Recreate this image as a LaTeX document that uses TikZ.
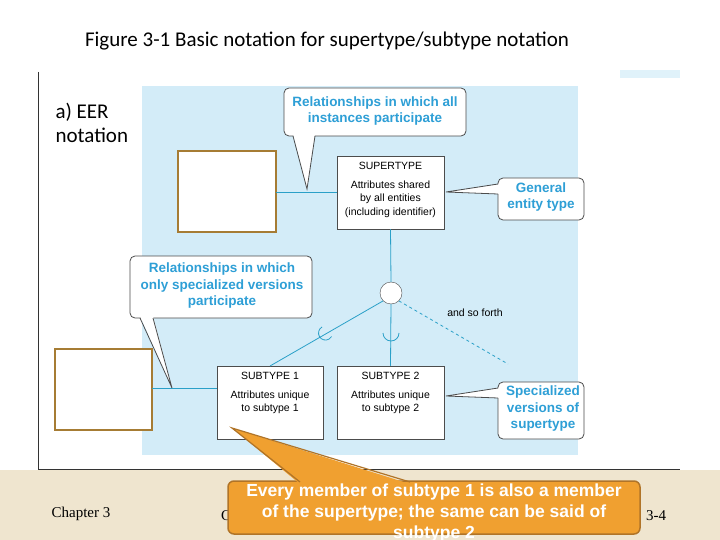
\documentclass[tikz,border=0pt]{standalone}
\usepackage{fontspec}
\setmainfont{Liberation Sans}
\newfontfamily\carlitofont{Carlito}
\newfontfamily\tmsfont{Liberation Serif}
\usetikzlibrary{calc}
\definecolor{panel}{HTML}{D3ECF8}
\definecolor{cy}{HTML}{2AA0C8}
\definecolor{ctext}{HTML}{2E9FD6}
\definecolor{brn}{HTML}{A67C34}
\definecolor{org}{HTML}{F0A030}
\definecolor{orgd}{HTML}{B07428}
\definecolor{tan}{HTML}{EFE5CF}
\tikzset{
 ent/.style={draw=black!70,fill=white,line width=0.5pt,inner sep=0pt},
 rel/.style={draw=brn,line width=2.5pt,fill=white},
 conn/.style={draw=cy,line width=0.8pt},
 call/.style={draw=black!70,fill=white,line width=0.8pt,rounded corners=5pt},
 calltxt/.style={text=ctext,font=\bfseries\fontsize{13.5}{16.5}\selectfont,align=center},
 enttxt/.style={font=\fontsize{10.5}{13.5}\selectfont,align=center}
}
\begin{document}
\begin{tikzpicture}[x=1pt,y=-1pt]
\useasboundingbox (0,0) rectangle (720,540);
\fill[white] (0,0) rectangle (720,540);
\fill[tan] (0,470) rectangle (720,540);
\node[font=\carlitofont\fontsize{21}{24}\selectfont] (title) at (327,41) {Figure 3-1 Basic notation for supertype/subtype notation};
\fill[white] (38,72) rectangle (680,469);
\draw[black!80,line width=1pt] (38,72) -- (38,469) -- (680,469);
\fill[panel!70] (620,70) rectangle (680,78);
\fill[panel] (142,86) rectangle (578,455);
\node[font=\carlitofont\fontsize{21}{24}\selectfont,align=left,anchor=north west] (lab) at (52,100) {a) EER\\notation};
% relationship boxes
\draw[rel] (178,151) rectangle (276,232);
\coordinate (r1) at (276,192);
\draw[rel] (55,349) rectangle (152,430);
\coordinate (r2) at (152,388);
% entities
\node[ent,minimum width=107pt,minimum height=73pt] (sup) at (390.5,192.5) {};
\node[enttxt,anchor=north] at (sup.north) [yshift=-3pt] {SUPERTYPE\\[5pt]Attributes shared\\by all entities\\(including identifier)};
\node[ent,minimum width=106pt,minimum height=73pt] (s1) at (270,402.5) {};
\node[enttxt,anchor=north] at (s1.north) [yshift=-3pt] {SUBTYPE 1\\[5pt]Attributes unique\\to subtype 1};
\node[ent,minimum width=107pt,minimum height=73pt] (s2) at (390.5,402.5) {};
\node[enttxt,anchor=north] at (s2.north) [yshift=-3pt] {SUBTYPE 2\\[5pt]Attributes unique\\to subtype 2};
\node[draw=black!70,fill=white,circle,minimum size=22pt,inner sep=0pt] (c) at (391,293) {};
\coordinate (s1t) at (270,366);
\coordinate (dsh) at (508,364);
% connectors
\draw[conn] (r1) -- (sup.west |- r1);
\draw[conn] (r2) -- (s1.west |- r2);
\draw[conn] (sup.south) -- (c.north);
\draw[conn] (c.south) -- (s2.north);
\draw[conn] (c.south west) -- (s1t);
\draw[conn,dashed] (c.south east) -- (dsh);
% cups
\draw[conn] (322,327) arc[start angle=120,end angle=330,radius=7pt];
\draw[conn] (383,333) arc[start angle=180,end angle=360,radius=8pt];
\node[font=\fontsize{10.5}{12}\selectfont] (asf) at (475,313) {and so forth};
% callouts
\draw[call] (284,88) rectangle (466,136);
\node[calltxt] (t1) at (375,111) {Relationships in which all\\instances participate};
\fill[white] (293,134) -- (307,189) -- (315,134) -- cycle;
\draw[black!70,line width=0.8pt] (293,136) -- (307,189) -- (315,136);
\draw[call] (498,178) rectangle (584,220);
\node[calltxt] (t2) at (541,197) {General\\entity type};
\fill[white] (500,184) -- (446,192) -- (500,194) -- cycle;
\draw[black!70,line width=0.8pt] (498,184) -- (446,192) -- (498,194);
\draw[call] (130,256) rectangle (312,318);
\node[calltxt] (t3) at (222,286) {Relationships in which\\only specialized versions\\participate};
\fill[white] (140,316) -- (172,388) -- (153,316) -- cycle;
\draw[black!70,line width=0.8pt] (140,318) -- (172,388) -- (153,318);
\draw[call] (498,382) rectangle (584,439);
\node[calltxt] (t4) at (543,409) {Specialized\\versions of\\supertype};
\fill[white] (500,388) -- (446,396) -- (500,398) -- cycle;
\draw[black!70,line width=0.8pt] (498,388) -- (446,396) -- (498,398);
% footer
\node[font=\tmsfont\fontsize{15}{17}\selectfont] (ch) at (81,514) {Chapter 3};
\node[font=\tmsfont\fontsize{15}{17}\selectfont] (c2) at (226,516) {C};
\node[font=\tmsfont\fontsize{15}{17}\selectfont] (pg) at (656,516) {3-4};
% orange callout
\fill[org,draw=orgd,line width=1.5pt,rounded corners=6pt] (228,481) rectangle (640,534);
\fill[org] (232,428) -- (300,484) -- (410,484) -- cycle;
\draw[orgd,line width=1.2pt] (300,482) -- (232,428) -- (410,482);
\node[text=white,font=\bfseries\fontsize{17.5}{21}\selectfont,align=center] (t5) at (434,513) {Every member of subtype 1 is also a member\\of the supertype; the same can be said of\\subtype 2};
\end{tikzpicture}
\end{document}
